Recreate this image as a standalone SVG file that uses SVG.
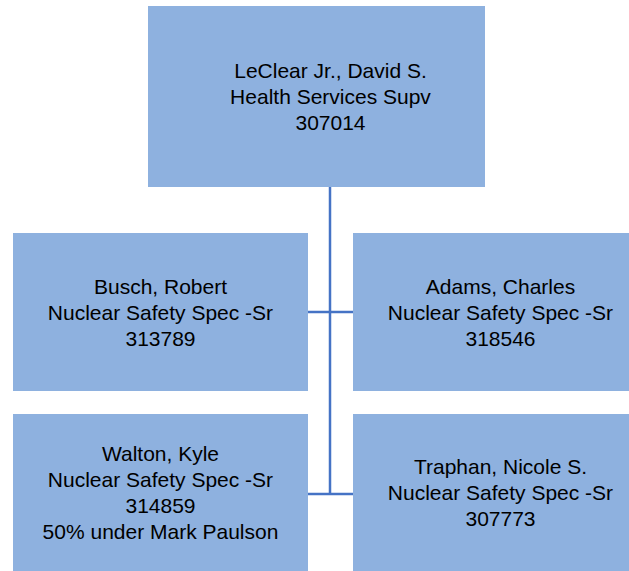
<svg xmlns="http://www.w3.org/2000/svg" width="629" height="571" viewBox="0 0 629 571">
<style>
.box{fill:#8eb1df;}
.t{font-family:"Liberation Sans",Arial,sans-serif;font-size:21px;fill:#000;text-anchor:middle;}
.c{stroke:#4573c5;stroke-width:2.5;fill:none;}
</style>
<rect width="629" height="571" fill="#fff"/>
<g id="connectors">
<path class="c" d="M330 187V494M308 312H353M308 494H353"/>
</g>
<g id="n-leclear">
<rect class="box" x="148" y="6" width="337" height="181"/>
<text class="t" x="330.5" y="78">LeClear Jr., David S.</text>
<text class="t" x="330.5" y="104">Health Services Supv</text>
<text class="t" x="330.5" y="130">307014</text>
</g>
<g id="n-busch">
<rect class="box" x="13" y="233" width="295" height="158"/>
<text class="t" x="160.5" y="294">Busch, Robert</text>
<text class="t" x="160.5" y="320">Nuclear Safety Spec -Sr</text>
<text class="t" x="160.5" y="346">313789</text>
</g>
<g id="n-adams">
<rect class="box" x="353" y="233" width="295" height="158"/>
<text class="t" x="500.5" y="294">Adams, Charles</text>
<text class="t" x="500.5" y="320">Nuclear Safety Spec -Sr</text>
<text class="t" x="500.5" y="346">318546</text>
</g>
<g id="n-walton">
<rect class="box" x="13" y="414" width="295" height="158"/>
<text class="t" x="160.5" y="461">Walton, Kyle</text>
<text class="t" x="160.5" y="487">Nuclear Safety Spec -Sr</text>
<text class="t" x="160.5" y="513">314859</text>
<text class="t" x="160.5" y="539">50% under Mark Paulson</text>
</g>
<g id="n-traphan">
<rect class="box" x="353" y="414" width="295" height="158"/>
<text class="t" x="500.5" y="474">Traphan, Nicole S.</text>
<text class="t" x="500.5" y="500">Nuclear Safety Spec -Sr</text>
<text class="t" x="500.5" y="526">307773</text>
</g>
</svg>
